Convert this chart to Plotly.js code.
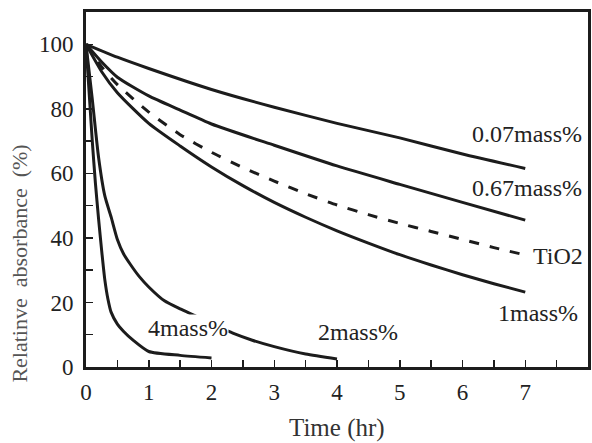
<!DOCTYPE html>
<html>
<head>
<meta charset="utf-8">
<script src="https://cdn.plot.ly/plotly-3.0.1.min.js"></script>
<style>html,body{margin:0;padding:0;background:#fff;}#chart{width:592px;height:443px;}</style>
</head>
<body>
<div id="chart"></div>
<script>
// Time (hr) and relative absorbance (%)
const x007 = [0, 0.5, 1, 2, 3, 4, 5, 6, 7];
const y007 = [100, 96, 92.5, 86, 80.5, 75.5, 71, 66, 61.5];

const x067 = [0, 0.25, 0.5, 1, 1.5, 2, 3, 4, 5, 6, 7];
const y067 = [100, 94.5, 89.8, 84, 79.6, 75.3, 68.7, 62.3, 56.6, 51, 45.5];

const xTiO2 = [0, 0.25, 0.5, 1, 1.5, 2, 2.5, 3, 3.5, 4, 4.5, 5, 5.5, 6, 6.5, 7];
const yTiO2 = [100, 93, 87.5, 79, 72, 66.5, 61.8, 57.6, 53.7, 50.2, 47.2, 44.5, 42, 39.5, 37, 34.7];

const x1 = [0, 0.25, 0.5, 1, 1.5, 2, 2.5, 3, 3.5, 4, 4.5, 5, 5.5, 6, 6.5, 7];
const y1 = [100, 91.5, 85, 75.5, 68.5, 62, 56.2, 51, 46.4, 42.2, 38.4, 34.8, 31.6, 28.6, 25.8, 23.2];

const x2 = [0, 0.1, 0.2, 0.3, 0.4, 0.5, 0.6, 0.7, 0.85, 1, 1.25, 1.5, 1.75, 2, 2.35, 2.65, 3, 3.5, 4];
const y2 = [100, 83, 65, 53, 46.5, 39.5, 35, 32, 28, 24.8, 20.5, 18, 15.8, 13.5, 10.4, 8.3, 6.3, 4, 2.5];

const x4 = [0, 0.05, 0.1, 0.15, 0.2, 0.25, 0.3, 0.35, 0.4, 0.5, 0.6, 0.75, 1, 1.5, 2];
const y4 = [100, 85, 70, 57, 46, 36, 27, 21, 17, 13.3, 11, 8.3, 4.8, 3.6, 2.8];

const seriesLabels = ['0.07mass%', '0.67mass%', 'TiO2', '1mass%', '2mass%', '4mass%'];
const xTitle = 'Time (hr)';
const yTitle = 'Relatinve\u00a0 absorbance\u00a0 (%)';

const ink = '#1c1c1c';
const font = 'Liberation Serif';

function line(x, y, dash) {
  return {x: x, y: y, type: 'scatter', mode: 'lines', showlegend: false, hoverinfo: 'skip',
    line: {color: ink, width: 3, dash: dash || 'solid', shape: 'spline', smoothing: 0.6}};
}

const data = [
  line(x007, y007),
  line(x067, y067),
  line(xTiO2, yTiO2, '10px,11px'),
  line(x1, y1),
  line(x2, y2),
  line(x4, y4)
];

const labelPos = [[7.03, 72.1], [7.03, 55.4], [7.52, 34.4], [7.2, 16.7], [4.34, 10.8], [1.63, 12.1]];
const annotations = seriesLabels.map((t, i) => ({
  text: t, x: labelPos[i][0], y: labelPos[i][1], xref: 'x', yref: 'y',
  showarrow: false, xanchor: 'center', yanchor: 'middle',
  font: {family: font, size: 24, color: '#222'},
  bgcolor: i === 5 ? '#ffffff' : 'rgba(0,0,0,0)', borderpad: 0
}));
annotations.push({
  text: xTitle, xref: 'paper', yref: 'paper', x: 0.5, y: -0.172, showarrow: false,
  xanchor: 'center', yanchor: 'middle', font: {family: font, size: 25, color: '#333'}
});
annotations.push({
  text: yTitle, xref: 'paper', yref: 'paper', x: -0.133, y: 0.292, showarrow: false,
  textangle: -90, xanchor: 'center', yanchor: 'middle', font: {family: font, size: 22, color: '#555'}
});

const layout = {
  width: 592, height: 443,
  margin: {l: 86, r: 4, t: 12, b: 76},
  paper_bgcolor: '#fff', plot_bgcolor: '#fff',
  showlegend: false,
  font: {family: font, size: 23, color: '#222'},
  xaxis: {
    range: [0, 8], dtick: 1, tick0: 0, showgrid: false, zeroline: false,
    showline: true, linecolor: ink, linewidth: 3, mirror: true,
    ticks: 'inside', ticklen: 7, tickwidth: 1.5, tickcolor: ink, ticklabelstandoff: 2,
    minor: {dtick: 0.5, ticks: 'inside', ticklen: 7, tickwidth: 1.5, tickcolor: ink, showgrid: false},
    tickfont: {family: font, size: 23, color: '#222'}
  },
  yaxis: {
    range: [0, 110], dtick: 20, tick0: 0, showgrid: false, zeroline: false,
    showline: true, linecolor: ink, linewidth: 3, mirror: true,
    ticks: 'inside', ticklen: 7, tickwidth: 1.5, tickcolor: ink, ticklabelstandoff: 5,
    minor: {dtick: 10, ticks: 'inside', ticklen: 7, tickwidth: 1.5, tickcolor: ink, showgrid: false},
    tickfont: {family: font, size: 23, color: '#222'}
  },
  annotations: annotations
};

Plotly.newPlot('chart', data, layout, {staticPlot: true, displayModeBar: false});
</script>
</body>
</html>
